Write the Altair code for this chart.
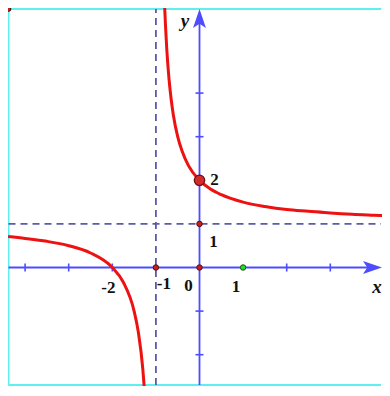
import altair as alt
import pandas as pd

# ---- data ----
# right branch of the hyperbola
right_x = [-0.8, -0.78, -0.75, -0.7, -0.65, -0.6, -0.5, -0.4, -0.25, 0.0, 0.25, 0.5, 1.0, 1.5, 2.0, 2.5, 3.0, 3.5, 4.0, 4.4]
right_y = [6.0, 5.55, 5.0, 4.33, 3.86, 3.5, 3.0, 2.67, 2.33, 2.0, 1.8, 1.67, 1.5, 1.4, 1.33, 1.29, 1.25, 1.22, 1.2, 1.185]
# left branch
left_x = [-4.39, -4.0, -3.5, -3.0, -2.5, -2.0, -1.75, -1.5, -1.4, -1.3, -1.26]
left_y = [0.71, 0.667, 0.6, 0.5, 0.333, 0.0, -0.333, -1.0, -1.5, -2.33, -2.85]

# asymptotes
v_asym = -1
h_asym = 1

# marked points
small_pts_x = [0, 0, -1]
small_pts_y = [1, 0, 0]
big_pt = (0, 2)
green_pt = (1, 0)

# axis tick positions
x_ticks = [-4, -3, -2, 2, 3]
y_ticks = [-2, -1, 3, 4]

# labels
lab_text = ["2", "1", "-2", "-1", "0", "1"]
lab_x = [0, 0, -2, -1, 0, 1]
lab_y = [2, 1, 0, 0, 0, 0]
lab_dx = [15, 14, -4, 8, -11, -7]
lab_dy = [0, 18, 20, 16, 18, 19]

# ---- scales ----
W, H = 374, 378
U = 43.6
OX, OY = 199.5, 267.5
X0 = (8 - OX) / U
X1 = (8 + W - OX) / U
YT = (OY - 8) / U
YB = (OY - (8 + H)) / U
xs = alt.Scale(domain=[X0, X1], nice=False, zero=False)
ys = alt.Scale(domain=[YB, YT], nice=False, zero=False)

FT = (OY - 9) / U
FB = (OY - (8 + H - 1)) / U
FL = (8.5 - OX) / U
FR = (8 + W - 1 - OX) / U

AXIS_BLUE = "#4d4dff"
DASH_COL = "#5b5ba8"
RED = "#ee1111"
FONT = "Liberation Serif"


def X(f="x", **k):
    return alt.X(f, type="quantitative", scale=xs, axis=None, **k)


def Y(f="y", **k):
    return alt.Y(f, type="quantitative", scale=ys, axis=None, **k)


# frame (left, top, bottom sides; the right side is off the picture)
frame_df = pd.DataFrame({
    "x": [FL, FL, FL], "x2": [FL, FR, FR],
    "y": [FB, FT, FB], "y2": [FT, FT, FB],
})
frame = alt.Chart(frame_df).mark_rule(color="#5ef0f0", strokeWidth=2).encode(
    x=X(), x2="x2", y=Y(), y2="y2")

# asymptotes
asym_df = pd.DataFrame({
    "x": [v_asym, FL], "x2": [v_asym, FR],
    "y": [FB, h_asym], "y2": [FT, h_asym],
})
asym = alt.Chart(asym_df).mark_rule(color=DASH_COL, strokeWidth=1.8, strokeDash=[7, 5]).encode(
    x=X(), x2="x2", y=Y(), y2="y2")

# axes lines
AX_TIP = 8 + W - 9.5
axes_df = pd.DataFrame({
    "x": [FL, 0], "x2": [(AX_TIP - OX) / U, 0],
    "y": [0, FB], "y2": [0, 5.8],
})
axes = alt.Chart(axes_df).mark_rule(color=AXIS_BLUE, strokeWidth=1.8).encode(
    x=X(), x2="x2", y=Y(), y2="y2")

xarrow = alt.Chart(pd.DataFrame({"x": [(AX_TIP - OX) / U], "y": [0]})).mark_point(
    shape="M1,0 L-1,-0.68 L-0.55,0 L-1,0.68 Z", size=361, filled=True,
    color=AXIS_BLUE, opacity=1).encode(x=X(), y=Y())
yarrow = alt.Chart(pd.DataFrame({"x": [0], "y": [(OY - 18.5) / U]})).mark_point(
    shape="M0,-1 L0.68,1 L0,0.55 L-0.68,1 Z", size=361, filled=True,
    color=AXIS_BLUE, opacity=1).encode(x=X(), y=Y())

xt = alt.Chart(pd.DataFrame({"x": x_ticks, "y": [0] * len(x_ticks)})).mark_tick(
    orient="vertical", size=8, thickness=1.6, color=AXIS_BLUE, opacity=1).encode(x=X(), y=Y())
yt = alt.Chart(pd.DataFrame({"x": [0] * len(y_ticks), "y": y_ticks})).mark_tick(
    orient="horizontal", size=8, thickness=1.6, color=AXIS_BLUE, opacity=1).encode(x=X(), y=Y())

# curves
curve_df = pd.concat([
    pd.DataFrame({"x": right_x, "y": right_y, "b": "right"}),
    pd.DataFrame({"x": left_x, "y": left_y, "b": "left"}),
])
curve = alt.Chart(curve_df).mark_line(color=RED, strokeWidth=3, interpolate="monotone", clip=True).encode(
    x=X(), y=Y(), detail="b:N", order="x:Q")

# points
small = alt.Chart(pd.DataFrame({"x": small_pts_x, "y": small_pts_y})).mark_point(
    filled=True, size=30, color="#c81e1e", stroke="#4a1010", strokeWidth=1, opacity=1).encode(x=X(), y=Y())
big = alt.Chart(pd.DataFrame({"x": [big_pt[0]], "y": [big_pt[1]]})).mark_point(
    filled=True, size=110, color="#d42a2a", stroke="#6a1010", strokeWidth=1.2, opacity=1).encode(x=X(), y=Y())
green = alt.Chart(pd.DataFrame({"x": [green_pt[0]], "y": [green_pt[1]]})).mark_point(
    filled=True, size=30, color="#22dd22", stroke="#1f4f1f", strokeWidth=1, opacity=1).encode(x=X(), y=Y())
corner = alt.Chart(pd.DataFrame({"x": [FL], "y": [FT]})).mark_point(
    filled=True, size=22, color="#c81e1e", stroke="#300000", strokeWidth=1, opacity=1).encode(x=X(), y=Y())

# labels
lab_df = pd.DataFrame({"t": lab_text, "x": lab_x, "y": lab_y, "dx": lab_dx, "dy": lab_dy})
labels = []
for _, r in lab_df.iterrows():
    labels.append(alt.Chart(pd.DataFrame([r])).mark_text(
        font=FONT, fontSize=17, fontWeight="bold", color="#111111",
        dx=float(r["dx"]), dy=float(r["dy"]), align="center", baseline="middle").encode(
        x=X(), y=Y(), text="t:N"))

axis_names = pd.DataFrame({"t": ["x", "y"], "x": [(377 - OX) / U, (185 - OX) / U],
                           "y": [(OY - 287) / U, (OY - 21) / U]})
names = alt.Chart(axis_names).mark_text(
    font=FONT, fontSize=19, fontWeight="bold", fontStyle="italic", color="#111111",
    align="center", baseline="middle").encode(x=X(), y=Y(), text="t:N")

chart = alt.layer(frame, asym, axes, xt, yt, xarrow, yarrow, curve, small, green, big, corner,
                  *labels, names).properties(
    width=W, height=H, padding=0,
    autosize=alt.AutoSizeParams(type="none"),
).configure_view(strokeWidth=0, stroke=None, fill="white").configure(background="white")

chart.save("out.html", embed_options={"renderer": "svg", "actions": False})
